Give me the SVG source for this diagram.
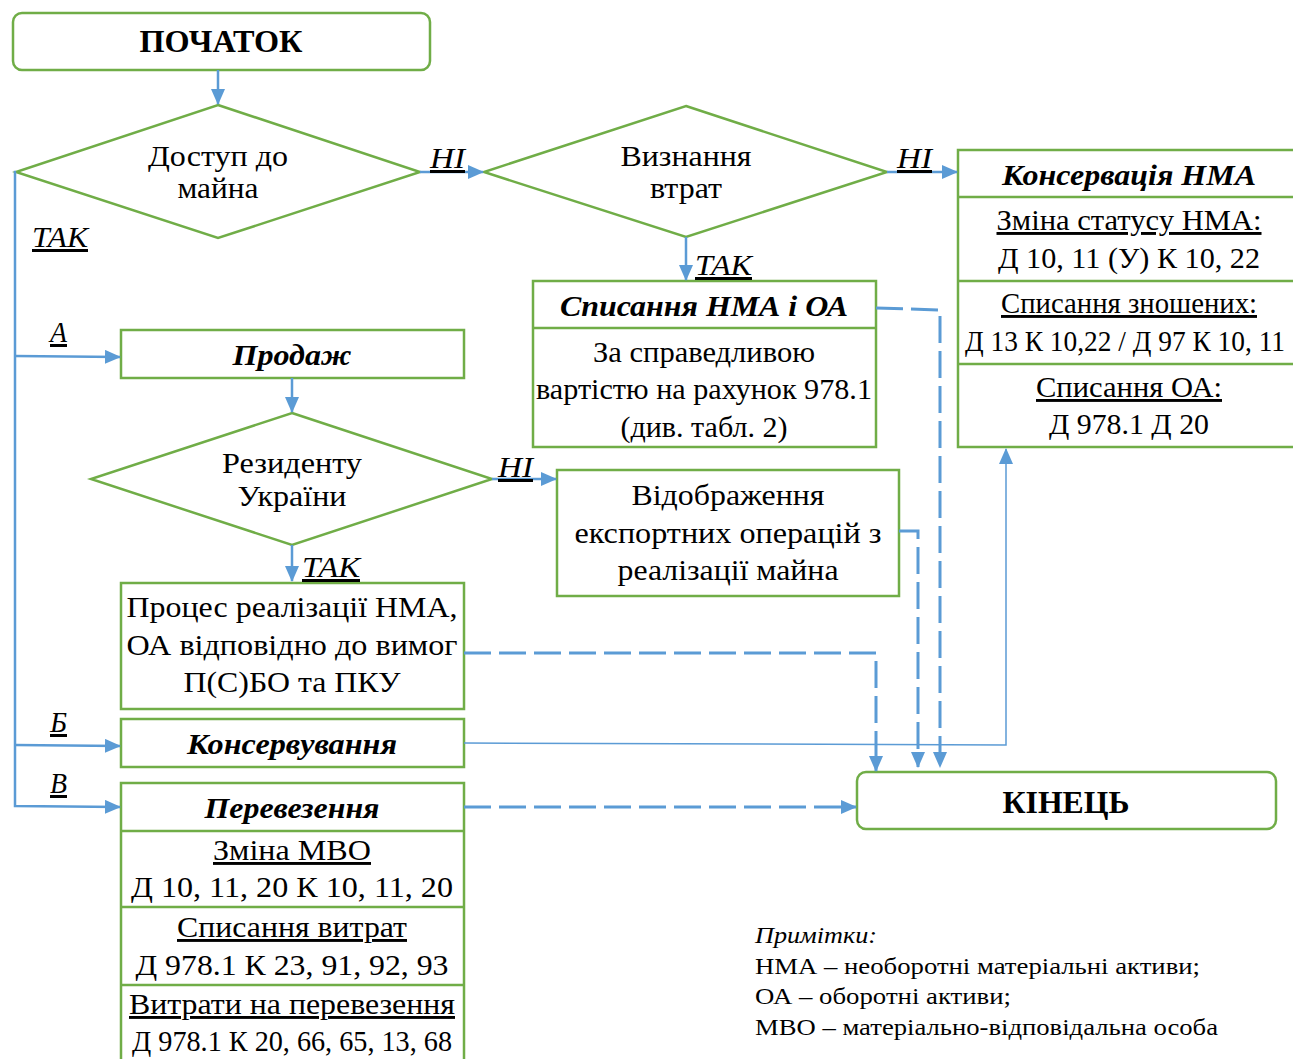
<svg xmlns="http://www.w3.org/2000/svg" width="1293" height="1059" viewBox="0 0 1293 1059">
<style>
.box{fill:#fff;stroke:#70AD47;stroke-width:2.5}
.sep{stroke:#70AD47;stroke-width:2.5}
.t{font-family:"Liberation Serif","Times New Roman",serif;font-size:29px;fill:#000;text-anchor:middle}
.bi{font-weight:bold;font-style:italic}
.b{font-weight:bold;font-size:31px}
.u{text-decoration:underline}
.lab{font-family:"Liberation Serif","Times New Roman",serif;font-size:30px;font-style:italic;text-decoration:underline;fill:#000}
.note{font-family:"Liberation Serif","Times New Roman",serif;font-size:24px;fill:#000}
.c{fill:none;stroke:#5B9BD5;stroke-width:2.5}
.dash{fill:none;stroke:#5B9BD5;stroke-width:3;stroke-dasharray:27 8}
.thin{fill:none;stroke:#5B9BD5;stroke-width:1.5}
</style>
<defs>
<marker id="ah" markerUnits="userSpaceOnUse" markerWidth="16" markerHeight="14" refX="15" refY="7" orient="auto">
<path d="M0,0 L16,7 L0,14 Z" fill="#5B9BD5"/>
</marker>
</defs>

<g id="start">
<rect class="box" x="13" y="13" width="417" height="57" rx="9"/>
<text class="t b" x="221" y="52" textLength="163" lengthAdjust="spacingAndGlyphs">ПОЧАТОК</text>
</g>

<g id="access">
<polygon class="box" points="218,105 420,172 218,238 16,172"/>
<text class="t" x="218" y="166" textLength="140" lengthAdjust="spacingAndGlyphs">Доступ до</text>
<text class="t" x="218" y="198" textLength="81" lengthAdjust="spacingAndGlyphs">майна</text>
</g>

<g id="losses">
<polygon class="box" points="686,106 887,172 686,237 484,172"/>
<text class="t" x="686" y="166" textLength="131" lengthAdjust="spacingAndGlyphs">Визнання</text>
<text class="t" x="686" y="198" textLength="72" lengthAdjust="spacingAndGlyphs">втрат</text>
</g>

<g id="conservation-nma">
<rect class="box" x="958" y="150" width="345" height="297"/>
<line class="sep" x1="958" y1="197" x2="1303" y2="197"/>
<line class="sep" x1="958" y1="281" x2="1303" y2="281"/>
<line class="sep" x1="958" y1="364" x2="1303" y2="364"/>
<text class="t bi" x="1129" y="185" textLength="254" lengthAdjust="spacingAndGlyphs">Консервація НМА</text>
<text class="t u" x="1129" y="230" textLength="265" lengthAdjust="spacingAndGlyphs">Зміна статусу НМА:</text>
<text class="t" x="1129" y="268" textLength="262" lengthAdjust="spacingAndGlyphs">Д 10, 11 (У) К 10, 22</text>
<text class="t u" x="1129" y="313" textLength="256" lengthAdjust="spacingAndGlyphs">Списання зношених:</text>
<text class="t" x="1125" y="351" font-size="26" textLength="320" lengthAdjust="spacingAndGlyphs">Д 13 К 10,22 / Д 97 К 10, 11</text>
<text class="t u" x="1129" y="397" textLength="186" lengthAdjust="spacingAndGlyphs">Списання ОА:</text>
<text class="t" x="1129" y="434" textLength="160" lengthAdjust="spacingAndGlyphs">Д 978.1 Д 20</text>
</g>

<g id="writeoff">
<rect class="box" x="533" y="281" width="343" height="166"/>
<line class="sep" x1="533" y1="328" x2="876" y2="328"/>
<text class="t bi" x="704" y="316" textLength="288" lengthAdjust="spacingAndGlyphs">Списання НМА і ОА</text>
<text class="t" x="704" y="362" textLength="222" lengthAdjust="spacingAndGlyphs">За справедливою</text>
<text class="t" x="704" y="399" textLength="336" lengthAdjust="spacingAndGlyphs">вартістю на рахунок 978.1</text>
<text class="t" x="704" y="437" textLength="167" lengthAdjust="spacingAndGlyphs">(див. табл. 2)</text>
</g>

<g id="sale">
<rect class="box" x="121" y="330" width="343" height="48"/>
<text class="t bi" x="292" y="365" textLength="119" lengthAdjust="spacingAndGlyphs">Продаж</text>
</g>

<g id="resident">
<polygon class="box" points="292,413 492,479 292,545 91,479"/>
<text class="t" x="292" y="473" textLength="140" lengthAdjust="spacingAndGlyphs">Резиденту</text>
<text class="t" x="292" y="506" textLength="109" lengthAdjust="spacingAndGlyphs">України</text>
</g>

<g id="export">
<rect class="box" x="557" y="470" width="342" height="126"/>
<text class="t" x="728" y="505" textLength="193" lengthAdjust="spacingAndGlyphs">Відображення</text>
<text class="t" x="728" y="543" textLength="307" lengthAdjust="spacingAndGlyphs">експортних операцій з</text>
<text class="t" x="728" y="580" textLength="221" lengthAdjust="spacingAndGlyphs">реалізації майна</text>
</g>

<g id="process">
<rect class="box" x="121" y="583" width="343" height="126"/>
<text class="t" x="292" y="617" textLength="331" lengthAdjust="spacingAndGlyphs">Процес реалізації НМА,</text>
<text class="t" x="292" y="655" textLength="331" lengthAdjust="spacingAndGlyphs">ОА відповідно до вимог</text>
<text class="t" x="292" y="692" textLength="217" lengthAdjust="spacingAndGlyphs">П(С)БО та ПКУ</text>
</g>

<g id="conserving">
<rect class="box" x="121" y="719" width="343" height="48"/>
<text class="t bi" x="292" y="754" textLength="210" lengthAdjust="spacingAndGlyphs">Консервування</text>
</g>

<g id="transport">
<rect class="box" x="121" y="783" width="343" height="290"/>
<line class="sep" x1="121" y1="831" x2="464" y2="831"/>
<line class="sep" x1="121" y1="907" x2="464" y2="907"/>
<line class="sep" x1="121" y1="985" x2="464" y2="985"/>
<text class="t bi" x="292" y="818" textLength="175" lengthAdjust="spacingAndGlyphs">Перевезення</text>
<text class="t u" x="292" y="860" textLength="158" lengthAdjust="spacingAndGlyphs">Зміна МВО</text>
<text class="t" x="292" y="897" textLength="322" lengthAdjust="spacingAndGlyphs">Д 10, 11, 20 К 10, 11, 20</text>
<text class="t u" x="292" y="937" textLength="230" lengthAdjust="spacingAndGlyphs">Списання витрат</text>
<text class="t" x="292" y="975" textLength="313" lengthAdjust="spacingAndGlyphs">Д 978.1 К 23, 91, 92, 93</text>
<text class="t u" x="292" y="1014" textLength="326" lengthAdjust="spacingAndGlyphs">Витрати на перевезення</text>
<text class="t" x="292" y="1051" textLength="320" lengthAdjust="spacingAndGlyphs">Д 978.1 К 20, 66, 65, 13, 68</text>
</g>

<g id="end">
<rect class="box" x="857" y="772" width="419" height="57" rx="9"/>
<text class="t b" x="1066" y="813" textLength="127" lengthAdjust="spacingAndGlyphs">КІНЕЦЬ</text>
</g>

<g id="notes">
<text class="note" x="755" y="943" font-style="italic" textLength="122" lengthAdjust="spacingAndGlyphs">Примітки:</text>
<text class="note" x="755" y="974" textLength="445" lengthAdjust="spacingAndGlyphs">НМА – необоротні матеріальні активи;</text>
<text class="note" x="755" y="1004" textLength="256" lengthAdjust="spacingAndGlyphs">ОА – оборотні активи;</text>
<text class="note" x="755" y="1035" textLength="463" lengthAdjust="spacingAndGlyphs">МВО – матеріально-відповідальна особа</text>
</g>

<g id="connectors">
<path class="c" d="M218,70 V104" marker-end="url(#ah)"/>
<path class="c" d="M420,172 H483" marker-end="url(#ah)"/>
<path class="c" d="M887,172 H957" marker-end="url(#ah)"/>
<path class="c" d="M686,237 V280" marker-end="url(#ah)"/>
<path class="dash" d="M876,308 L940,310 V767" marker-end="url(#ah)"/>
<path class="c" d="M16,172 H15 V806 L120,807" marker-end="url(#ah)"/>
<path class="c" d="M15,356 L120,357" marker-end="url(#ah)"/>
<path class="c" d="M15,745 L120,746" marker-end="url(#ah)"/>
<path class="c" d="M292,378 V412" marker-end="url(#ah)"/>
<path class="c" d="M492,479 H556" marker-end="url(#ah)"/>
<path class="c" d="M292,545 V581" marker-end="url(#ah)"/>
<path class="dash" d="M899,531 H918 V767" marker-end="url(#ah)"/>
<path class="dash" d="M464,653 H876 V771" marker-end="url(#ah)"/>
<path class="thin" d="M464,743 L1006,745 V449" marker-end="url(#ah)"/>
<path class="dash" d="M464,807 H856" marker-end="url(#ah)"/>
<text class="lab" x="430" y="168" textLength="35" lengthAdjust="spacingAndGlyphs">НІ</text>
<text class="lab" x="897" y="168" textLength="35" lengthAdjust="spacingAndGlyphs">НІ</text>
<text class="lab" x="695" y="275" textLength="57" lengthAdjust="spacingAndGlyphs">ТАК</text>
<text class="lab" x="32" y="247" textLength="56" lengthAdjust="spacingAndGlyphs">ТАК</text>
<text class="lab" x="50" y="342" textLength="17" lengthAdjust="spacingAndGlyphs">А</text>
<text class="lab" x="498" y="477" textLength="35" lengthAdjust="spacingAndGlyphs">НІ</text>
<text class="lab" x="302" y="577" textLength="58" lengthAdjust="spacingAndGlyphs">ТАК</text>
<text class="lab" x="50" y="732" textLength="17" lengthAdjust="spacingAndGlyphs">Б</text>
<text class="lab" x="50" y="793" textLength="17" lengthAdjust="spacingAndGlyphs">В</text>
</g>
</svg>
